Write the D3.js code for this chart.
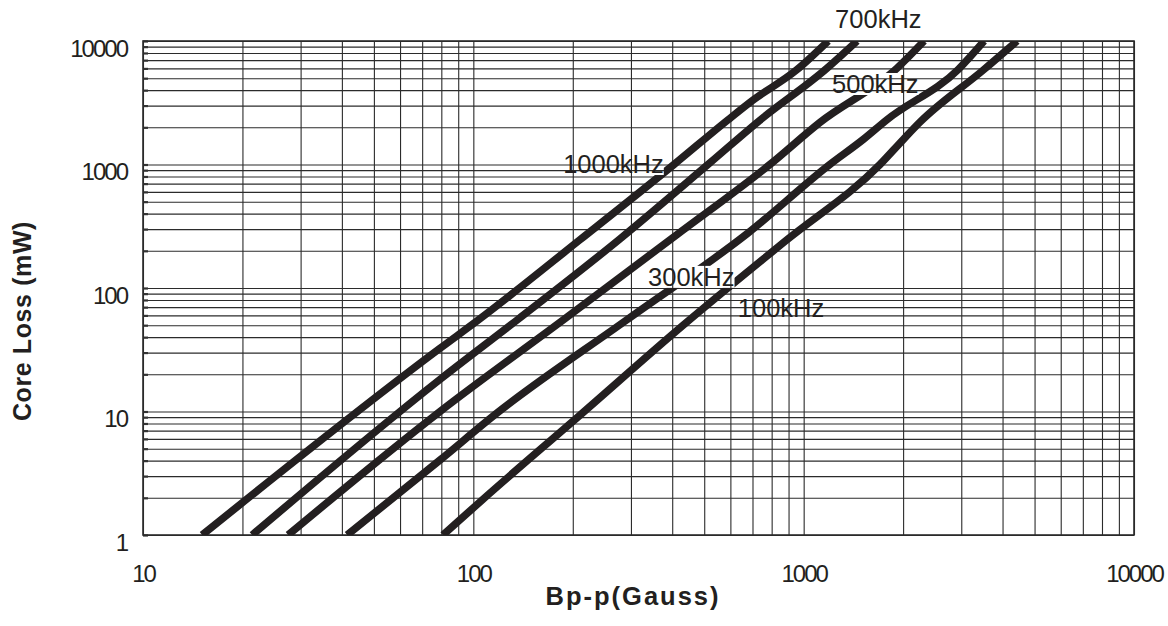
<!DOCTYPE html>
<html>
<head>
<meta charset="utf-8">
<script src="https://cdn.jsdelivr.net/npm/d3@7"></script>
<style>
body { margin: 0; background: #fff; }
text { font-family: "Liberation Sans", Arial, sans-serif; fill: #231f20; }
</style>
</head>
<body>
<svg id="chart" width="1168" height="626"></svg>
<script>
// tick labels
let xTicks = [10, 100, 1000, 10000];
let yTicks = [1, 10, 100, 1000, 10000];

// curves: [Bp-p (Gauss), core loss (mW)]
let names = ["1000kHz", "700kHz", "500kHz", "300kHz", "100kHz"];
let c1000 = [[15.1, 1], [79.3, 32.5], [103.5, 55], [210, 245], [405, 1000], [590, 2300], [700, 3300], [950, 5800], [1186, 10000]];
let c700 = [[21.4, 1], [79.3, 18.2], [136.8, 56], [278, 250], [520, 1030], [735, 2270], [1175, 6000], [1451, 10000]];
let c500 = [[27.5, 1], [79.3, 10], [187, 55], [413, 270], [790, 1000], [1122, 2200], [1913, 6000], [2315, 10000]];
let c300 = [[41.5, 1], [79.3, 4.05], [117.7, 9.67], [291, 55], [680, 280], [1200, 1000], [1517, 1600], [1785, 2300], [2940, 5900], [3517, 10000]];
let c100 = [[80.9, 1], [107, 1.95], [210, 9.3], [432, 50], [889, 245], [1702, 1000], [2005, 1600], [2249, 2200], [3499, 5823], [4427, 10000]];
let curves = [c1000, c700, c500, c300, c100];

// where each label sits, in data units (left end of the baseline)
let labelB = [187, 1245, 1219, 338, 632];
let labelP = [853, 12740, 3793, 104, 58.2];

let mLeft = 143, mRight = 1134, mTop = 41, mBottom = 535;

let svg = d3.select("#chart");
let x = d3.scaleLog().domain([10, 10000]).range([mLeft, mRight]);
let y = d3.scaleLog().domain([1, 10000]).range([mBottom, mTop]);

let xGrid = [], yGrid = [];
[10, 100, 1000].forEach(function(d) {
    for (let i = 1; i < 10; i++) xGrid.push(d * i);
});
xGrid.push(10000);
[1, 10, 100, 1000].forEach(function(d) {
    for (let i = 1; i < 10; i++) yGrid.push(d * i);
});
yGrid.push(10000);

// grid
svg.append("g")
    .attr("transform", "translate(0," + mBottom + ")")
    .call(d3.axisBottom(x).tickValues(xGrid).tickSize(-(mBottom - mTop)).tickFormat(""))
    .call(function(g) { g.select(".domain").remove(); })
    .selectAll("line").attr("stroke", "#2b2b2b").attr("stroke-width", 1.1);
svg.append("g")
    .attr("transform", "translate(" + mLeft + ",0)")
    .call(d3.axisLeft(y).tickValues(yGrid).tickSize(-(mRight - mLeft)).tickFormat(""))
    .call(function(g) { g.select(".domain").remove(); })
    .selectAll("line").attr("stroke", "#2b2b2b").attr("stroke-width", 1.1);
// little inner ticks on the left edge
svg.append("g")
    .attr("transform", "translate(" + mLeft + ",0)")
    .call(d3.axisLeft(y).tickValues(yGrid).tickSize(-5).tickFormat(""))
    .call(function(g) { g.select(".domain").remove(); })
    .selectAll("line").attr("stroke", "#333").attr("stroke-width", 2.2);

svg.append("rect")
    .attr("x", mLeft).attr("y", mTop)
    .attr("width", mRight - mLeft).attr("height", mBottom - mTop)
    .attr("fill", "none").attr("stroke", "#2b2b2b").attr("stroke-width", 1.6);

// tick labels
let xAx = svg.append("g")
    .attr("transform", "translate(0," + mBottom + ")")
    .call(d3.axisBottom(x).tickValues(xTicks).tickSize(0).tickPadding(30).tickFormat(d3.format("d")));
xAx.select(".domain").remove();
xAx.attr("font-family", null).attr("font-size", null);
xAx.selectAll("text").attr("font-size", 24).attr("letter-spacing", -2);

let yAx = svg.append("g")
    .attr("transform", "translate(" + mLeft + ",0)")
    .call(d3.axisLeft(y).tickValues(yTicks).tickSize(0).tickPadding(16).tickFormat(d3.format("d")));
yAx.select(".domain").remove();
yAx.attr("font-family", null).attr("font-size", null);
yAx.selectAll("text").attr("font-size", 24).attr("letter-spacing", -2).attr("dy", "0.63em");

// labels
let labels = svg.append("g").selectAll("text").data(names).enter().append("text")
    .attr("x", function(d, i) { return x(labelB[i]); })
    .attr("y", function(d, i) { return y(labelP[i]); })
    .attr("font-size", 25.5)
    .text(function(d) { return d; });

// mask the curves where the labels are
let defs = svg.append("defs");
defs.append("clipPath").attr("id", "plot").append("rect")
    .attr("x", mLeft).attr("y", mTop).attr("width", mRight - mLeft).attr("height", mBottom - mTop);
let mask = defs.append("mask").attr("id", "holes").attr("maskUnits", "userSpaceOnUse")
    .attr("x", 0).attr("y", 0).attr("width", 1168).attr("height", 626);
mask.append("rect").attr("width", 1168).attr("height", 626).attr("fill", "#fff");
labels.each(function() {
    let b = this.getBBox();
    mask.append("rect").attr("x", b.x).attr("y", b.y + 3).attr("width", b.width).attr("height", b.height - 6).attr("fill", "#000");
});

let line = d3.line()
    .x(function(d) { return x(d[0]); })
    .y(function(d) { return y(d[1]); })
    .curve(d3.curveMonotoneX);
svg.append("g").attr("clip-path", "url(#plot)")
    .append("g").attr("mask", "url(#holes)")
    .selectAll("path").data(curves).enter().append("path")
    .attr("d", line)
    .attr("fill", "none")
    .attr("stroke", "#231f20")
    .attr("stroke-width", 7.5)
    .attr("stroke-linejoin", "round");

// axis titles
svg.append("text")
    .attr("x", 633).attr("y", 605)
    .attr("text-anchor", "middle")
    .attr("font-size", 25.5).attr("font-weight", "bold").attr("letter-spacing", 2)
    .text("Bp-p(Gauss)");
svg.append("text")
    .attr("transform", "translate(31,321) rotate(-90)")
    .attr("text-anchor", "middle")
    .attr("font-size", 25).attr("font-weight", "bold").attr("letter-spacing", 0.6)
    .text("Core Loss (mW)");
</script>
</body>
</html>
